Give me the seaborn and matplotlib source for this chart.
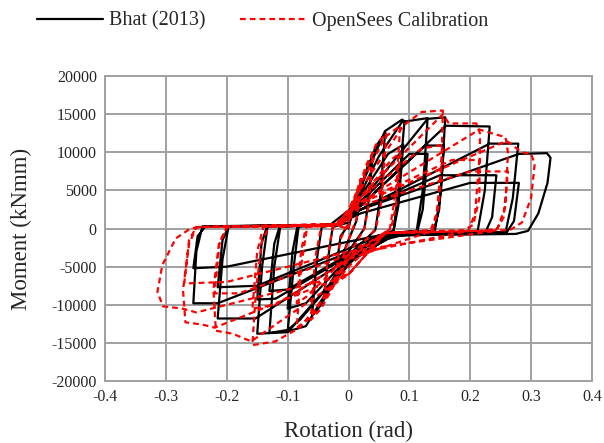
import matplotlib
matplotlib.use('Agg')
import matplotlib.pyplot as plt
import pandas as pd
import seaborn as sns

# Bhat (2013) test loop: (rotation rad, moment kNmm) vertices
bhat_pts = [
    (0, 0), (0.01, 3500), (0.02, 5500), (0.013, 1000), (0.0, -1500), (-0.01, -3500), (-0.02, -5000), (-0.013, -1000), (0.0, 500),
    (0.015, 4000), (0.03, 7800), (0.04, 9500), (0.032, 3000), (0.026, 0), (0.0, -3000), (-0.03, -7200), (-0.04, -8500), (-0.032, -3000), (-0.026, 200), (0.0, 800),
    (0.02, 5500), (0.045, 10800), (0.06, 12500), (0.052, 4000), (0.044, -200), (0.0, -3500), (-0.045, -10000), (-0.06, -11500), (-0.052, -4000), (-0.044, 200), (-0.01, 700),
    (0.015, 4500), (0.06, 12800), (0.088, 14300), (0.092, 14100), (0.082, 5000), (0.074, -300), (0.04, -1200), (-0.03, -7500), (-0.07, -12800), (-0.10, -13500), (-0.09, -5000), (-0.082, 300), (-0.03, 500),
    (0.01, 3000), (0.065, 9800), (0.09, 11000), (0.082, 3000), (0.074, -300), (0.0, -3800), (-0.07, -9800), (-0.10, -10500), (-0.092, -3000), (-0.084, 300), (-0.02, 400),
    (0.01, 3000), (0.05, 9500), (0.088, 14000), (0.13, 14500), (0.122, 5000), (0.112, -300), (0.07, -600), (0.0, -4500), (-0.08, -12000), (-0.10, -13300), (-0.13, -13700), (-0.122, -5000), (-0.112, 300), (-0.02, 500),
    (0.02, 3500), (0.1, 9800), (0.13, 9800), (0.122, 2500), (0.113, -400), (0.03, -2000), (-0.1, -8000), (-0.13, -8200), (-0.122, -2000), (-0.113, 300), (-0.02, 400),
    (0.01, 2500), (0.13, 14400), (0.159, 14600), (0.152, 5000), (0.142, -300), (0.08, -500), (0.0, -4500), (-0.1, -13600), (-0.15, -13800), (-0.142, -5000), (-0.133, 300), (-0.02, 500),
    (0.02, 3000), (0.126, 10900), (0.157, 10900), (0.149, 2500), (0.14, -400), (0.06, -800), (-0.12, -9200), (-0.15, -9300), (-0.143, -2000), (-0.134, 300), (-0.02, 400),
    (0.02, 3000), (0.16, 13500), (0.232, 13400), (0.224, 5000), (0.212, -400), (0.08, -700), (-0.02, -5000), (-0.153, -11800), (-0.215, -11800), (-0.207, -4000), (-0.197, 300), (-0.02, 500),
    (0.02, 2500), (0.15, 7000), (0.243, 7000), (0.236, 1500), (0.225, -500), (0.05, -1000), (-0.15, -7500), (-0.215, -7700), (-0.207, -1500), (-0.197, 300), (-0.02, 400),
    (0.02, 2500), (0.232, 11150), (0.279, 11150), (0.27, 4000), (0.258, -500), (0.08, -700), (-0.215, -9800), (-0.255, -9800), (-0.25, -3000), (-0.24, 300), (-0.02, 500),
    (0.02, 2000), (0.2, 6000), (0.28, 6000), (0.272, 1000), (0.26, -500), (0.05, -900), (-0.2, -5000), (-0.255, -5200), (-0.248, -1000), (-0.235, 300), (-0.02, 400),
    (0.02, 2500), (0.28, 9800), (0.326, 9900), (0.332, 9300), (0.327, 6000), (0.312, 2000), (0.295, -300), (0.275, -700), (0.06, -900),
]

# OpenSees calibration loop
calib_pts = [
    (0, 0), (0.01, 4000), (0.02, 6500), (0.014, 1500), (0.0, -1500), (-0.01, -4000), (-0.02, -6000), (-0.014, -1500), (0.0, 800),
    (0.015, 5000), (0.03, 8500), (0.04, 10000), (0.034, 3500), (0.026, 0), (0.0, -3500), (-0.03, -8000), (-0.04, -9500), (-0.034, -3500), (-0.026, 200), (0.0, 1000),
    (0.02, 6000), (0.045, 11000), (0.062, 12500), (0.055, 4000), (0.045, 0), (0.0, -4000), (-0.045, -10500), (-0.062, -12000), (-0.055, -4000), (-0.045, 200), (-0.01, 800),
    (0.015, 5000), (0.06, 12000), (0.085, 13500), (0.078, 5000), (0.068, 0), (0.0, -4000), (-0.06, -11500), (-0.085, -13000), (-0.078, -5000), (-0.068, 200), (-0.01, 600),
    (0.02, 4000), (0.07, 9000), (0.085, 10000), (0.078, 3000), (0.07, 0), (0.0, -3500), (-0.07, -9000), (-0.085, -9800), (-0.078, -3000), (-0.07, 200), (-0.01, 500),
    (0.01, 4000), (0.09, 13500), (0.12, 15300), (0.155, 15500), (0.153, 9000), (0.145, 2000), (0.135, -200), (0.06, -600), (0.0, -5000), (-0.08, -13000), (-0.12, -14800), (-0.158, -15300), (-0.152, -8000), (-0.142, -1500), (-0.13, 200), (-0.02, 600),
    (0.02, 4000), (0.12, 10500), (0.155, 11000), (0.148, 3000), (0.138, -300), (0.0, -4000), (-0.12, -10000), (-0.158, -10500), (-0.15, -3000), (-0.14, 200), (-0.02, 500),
    (0.01, 3500), (0.155, 15000), (0.165, 13800), (0.21, 13800), (0.216, 12500), (0.215, 4000), (0.205, 500), (0.19, -200), (0.06, -600), (0.0, -6000), (-0.16, -14800), (-0.19, -13800), (-0.218, -13400), (-0.222, -8000), (-0.213, -2000), (-0.2, 200), (-0.02, 600),
    (0.02, 3500), (0.17, 9000), (0.215, 9000), (0.208, 2000), (0.197, -300), (0.0, -3500), (-0.18, -8500), (-0.22, -8500), (-0.212, -2000), (-0.2, 200), (-0.02, 500),
    (0.01, 3000), (0.215, 13000), (0.24, 12400), (0.258, 12000), (0.262, 10000), (0.258, 3000), (0.245, 0), (0.22, -300), (0.06, -600), (0.0, -6000), (-0.22, -13000), (-0.24, -12600), (-0.268, -12300), (-0.272, -8000), (-0.262, -2000), (-0.25, 200), (-0.02, 600),
    (0.02, 3000), (0.2, 7500), (0.262, 7500), (0.255, 1500), (0.242, -300), (0.0, -3000), (-0.2, -7000), (-0.27, -7200), (-0.262, -1500), (-0.25, 200), (-0.02, 500),
    (0.01, 3000), (0.26, 11500), (0.285, 10000), (0.3, 9800), (0.306, 8500), (0.3, 4000), (0.285, 800), (0.265, -200), (0.06, -600), (0.0, -6000), (-0.25, -11000), (-0.273, -10500), (-0.305, -10200), (-0.314, -8300), (-0.306, -4800), (-0.284, -1300), (-0.26, 0), (-0.246, 200), (-0.02, 400), (0.0, 0),
]

x_ticks = [-0.4, -0.3, -0.2, -0.1, 0, 0.1, 0.2, 0.3, 0.4]
x_labels = ['-0.4', '-0.3', '-0.2', '-0.1', '0', '0.1', '0.2', '0.3', '0.4']
y_ticks = [-20000, -15000, -10000, -5000, 0, 5000, 10000, 15000, 20000]
y_labels = ['-20000', '-15000', '-10000', '-5000', '0', '5000', '10000', '15000', '20000']

df_bhat = pd.DataFrame(bhat_pts, columns=['rot', 'mom'])
df_calib = pd.DataFrame(calib_pts, columns=['rot', 'mom'])

sns.set_style('white')
plt.rcParams['font.family'] = ['Liberation Serif', 'DejaVu Serif']
plt.rcParams['axes.unicode_minus'] = False

fig = plt.figure(figsize=(6.04, 4.43), dpi=100)
ax = fig.add_axes([0.174, 0.140, 0.806, 0.688])

sns.lineplot(data=df_bhat, x='rot', y='mom', sort=False, estimator=None,
             color='black', linewidth=1.6, ax=ax, label='Bhat (2013)')
sns.lineplot(data=df_calib, x='rot', y='mom', sort=False, estimator=None,
             color='#ff0000', linewidth=1.6, ax=ax, label='OpenSees Calibration')
ax.lines[1].set_dashes((2.6, 1.8))

ax.set_xlim(-0.4, 0.4)
ax.set_ylim(-20000, 20000)
ax.set_xticks(x_ticks)
ax.set_xticklabels(x_labels)
ax.set_yticks(y_ticks)
ax.set_yticklabels(y_labels)
ax.tick_params(length=0, labelsize=11.5, pad=6)
ax.grid(True, color='#a0a0a0', linewidth=1.4)
for s in ax.spines.values():
    s.set_color('#a0a0a0')
    s.set_linewidth(1.4)
ax.set_xlabel('Rotation (rad)', fontsize=16.5, labelpad=11)
ax.set_ylabel('Moment (kNmm)', fontsize=16.5, labelpad=14)

handles, labels = ax.get_legend_handles_labels()
ax.get_legend().remove()
fig.legend(handles, labels, loc='upper center', bbox_to_anchor=(0.435, 1.015), ncol=2,
           frameon=False, fontsize=14.5, handlelength=3.3, columnspacing=1.7, handletextpad=0.3)

fig.savefig('out.png', dpi=100)
